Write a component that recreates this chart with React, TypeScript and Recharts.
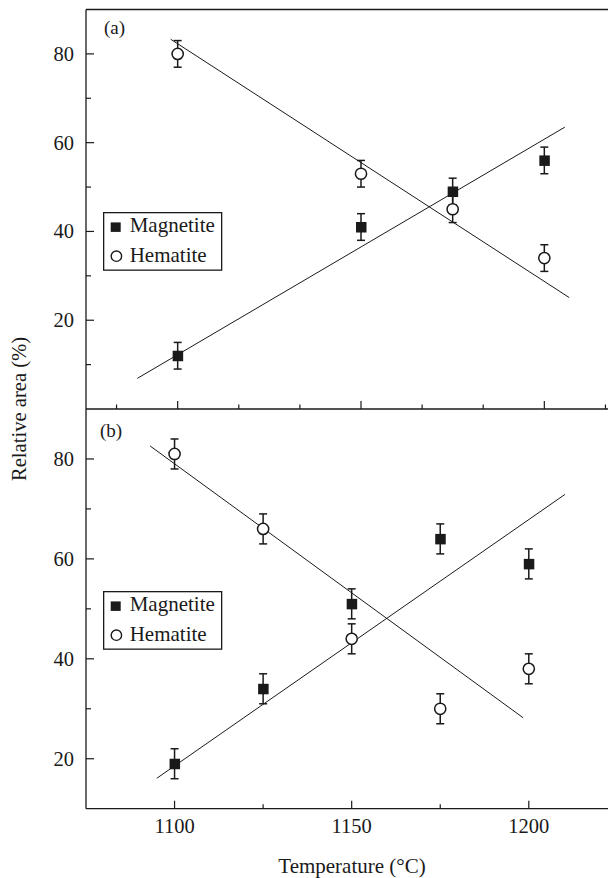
import React from 'react';
import { ScatterChart, Scatter, XAxis, YAxis, ErrorBar, ReferenceLine, Legend } from 'recharts';

const FONT = 'Liberation Serif, Tinos, DejaVu Serif, serif';
const INK = '#1a1a1a';

// panel (a)
const tempsA = [1100, 1150, 1175, 1200];
const magnetiteA = [12, 41, 49, 56];
const hematiteA = [80, 53, 45, 34];
const errA = [3, 3, 3, 3];
const fitMagA = [{ t: 1089.0, v: 6.9 }, { t: 1205.6, v: 63.5 }];
const fitHemA = [{ t: 1098.1, v: 83.3 }, { t: 1206.8, v: 25.1 }];
const xTicksA = [1083.33, 1100, 1116.67, 1133.33, 1150, 1166.67, 1183.33, 1200, 1216.67];
const yTicksA = [10, 20, 30, 40, 50, 60, 70, 80];

// panel (b)
const tempsB = [1100, 1125, 1150, 1175, 1200];
const magnetiteB = [19, 34, 51, 64, 59];
const hematiteB = [81, 66, 44, 30, 38];
const errB = [3, 3, 3, 3, 3];
const fitMagB = [{ t: 1095.0, v: 16.1 }, { t: 1210.2, v: 72.9 }];
const fitHemB = [{ t: 1093.1, v: 82.6 }, { t: 1198.4, v: 28.2 }];
const xTicksB = [1100, 1125, 1150, 1175, 1200];
const yTicksB = [20, 30, 40, 50, 60, 70, 80];

const legendItems = ['Magnetite', 'Hematite'];

const toPoints = (temps: number[], vals: number[], errs: number[]) =>
  temps.map((t, i) => ({ t, v: vals[i], e: errs[i] }));

const Square = (p: any) => <rect x={p.cx - 5} y={p.cy - 5} width={10.5} height={10.5} fill={INK} />;
const Ring = (p: any) => (
  <circle cx={p.cx} cy={p.cy} r={5.6} fill="#fff" stroke={INK} strokeWidth={1.5} />
);
const NoMarker = () => <g />;

const YTick = ({ x, y, payload }: any) => {
  const major = payload.value % 20 === 0;
  return (
    <g>
      <line x1={x} y1={y} x2={x + (major ? 8 : 5)} y2={y} stroke={INK} strokeWidth={1.2} />
      {major && (
        <text x={x - 12} y={y} dy="0.34em" textAnchor="end" fontSize={20.5} fontFamily={FONT} fill={INK}>
          {payload.value}
        </text>
      )}
    </g>
  );
};

const makeXTick = (withLabel: boolean) => ({ x, y, payload }: any) => {
  const q = payload.value / 50;
  const major = Math.abs(q - Math.round(q)) < 0.001;
  return (
    <g>
      <line x1={x} y1={y} x2={x} y2={y - (major ? 8 : 4.5)} stroke={INK} strokeWidth={1.2} />
      {withLabel && major && (
        <text x={x} y={y + 24} textAnchor="middle" fontSize={20.5} fontFamily={FONT} fill={INK}>
          {payload.value}
        </text>
      )}
    </g>
  );
};

const LegendBox = () => (
  <svg width={120} height={60}>
    <rect x={0.65} y={0.65} width={118} height={57.5} fill="#fff" stroke={INK} strokeWidth={1.3} />
    <rect x={7.7} y={10.4} width={10} height={9.5} fill={INK} />
    <text x={26.7} y={20} fontSize={21} fontFamily={FONT} fill={INK}>{legendItems[0]}</text>
    <circle cx={13.4} cy={44.2} r={5.2} fill="#fff" stroke={INK} strokeWidth={1.4} />
    <text x={26.7} y={49.5} fontSize={21} fontFamily={FONT} fill={INK}>{legendItems[1]}</text>
  </svg>
);

const axisLine = { stroke: INK, strokeWidth: 1.3 };
const fitLine = { stroke: INK, strokeWidth: 1 };
const errProps = { dataKey: 'e', direction: 'y' as const, width: 4, stroke: INK, strokeWidth: 1.5 };

export default function App() {
  return (
    <div
      style={{
        position: 'absolute', left: 0, top: 0, width: 608, height: 878,
        overflow: 'hidden', background: '#fff', fontFamily: FONT,
      }}
    >
      <div style={{ position: 'absolute', left: 0, top: 400 }}>
        <ScatterChart width={620} height={478} margin={{ top: 9, right: 11.5, left: 0, bottom: 0 }}>
          <XAxis
            dataKey="t" type="number" domain={[1075, 1222.5]} ticks={xTicksB} interval={0}
            height={69.3} tickSize={0} tickMargin={0} axisLine={axisLine} tickLine={false}
            tick={makeXTick(true)}
          />
          <YAxis
            dataKey="v" type="number" domain={[10, 90]} ticks={yTicksB} interval={0}
            width={86} tickSize={0} tickMargin={0} axisLine={axisLine} tickLine={false} tick={<YTick />}
          />
          <Legend
            layout="vertical" align="center" verticalAlign="middle" content={<LegendBox />}
            wrapperStyle={{ left: 103.3, top: 191, width: 120, height: 60 }}
          />
          <Scatter data={fitMagB} line={fitLine} shape={NoMarker} isAnimationActive={false} />
          <Scatter data={fitHemB} line={fitLine} shape={NoMarker} isAnimationActive={false} />
          <Scatter data={toPoints(tempsB, magnetiteB, errB)} shape={Square} isAnimationActive={false}>
            <ErrorBar {...errProps} />
          </Scatter>
          <Scatter data={toPoints(tempsB, hematiteB, errB)} shape={Ring} isAnimationActive={false}>
            <ErrorBar {...errProps} />
          </Scatter>
        </ScatterChart>
      </div>
      <div style={{ position: 'absolute', left: 0, top: 0 }}>
        <ScatterChart width={620} height={420} margin={{ top: 9.5, right: 11.5, left: 0, bottom: 0 }}>
          <XAxis
            dataKey="t" type="number" domain={[1075, 1217.5]} ticks={xTicksA} interval={0}
            height={11} tickSize={0} tickMargin={0} axisLine={axisLine} tickLine={false}
            tick={makeXTick(false)}
          />
          <YAxis
            dataKey="v" type="number" domain={[0, 90]} ticks={yTicksA} interval={0}
            width={86} tickSize={0} tickMargin={0} axisLine={axisLine} tickLine={false} tick={<YTick />}
          />
          <ReferenceLine y={90} stroke={INK} strokeWidth={1.3} />
          <Legend
            layout="vertical" align="center" verticalAlign="middle" content={<LegendBox />}
            wrapperStyle={{ left: 103.3, top: 212.3, width: 120, height: 60 }}
          />
          <Scatter data={fitMagA} line={fitLine} shape={NoMarker} isAnimationActive={false} />
          <Scatter data={fitHemA} line={fitLine} shape={NoMarker} isAnimationActive={false} />
          <Scatter data={toPoints(tempsA, magnetiteA, errA)} shape={Square} isAnimationActive={false}>
            <ErrorBar {...errProps} />
          </Scatter>
          <Scatter data={toPoints(tempsA, hematiteA, errA)} shape={Ring} isAnimationActive={false}>
            <ErrorBar {...errProps} />
          </Scatter>
        </ScatterChart>
      </div>
      <svg
        width={608} height={878}
        style={{ position: 'absolute', left: 0, top: 0, pointerEvents: 'none' }}
      >
        <text x={104} y={33.5} fontSize={19} fontFamily={FONT} fill={INK}>(a)</text>
        <text x={100} y={437} fontSize={19} fontFamily={FONT} fill={INK}>(b)</text>
        <text
          x={0} y={0} transform="translate(26 409) rotate(-90)" textAnchor="middle"
          fontSize={20.6} fontFamily={FONT} fill={INK}
        >
          Relative area (%)
        </text>
        <text x={352} y={873} textAnchor="middle" fontSize={21} fontFamily={FONT} fill={INK}>
          Temperature (°C)
        </text>
      </svg>
    </div>
  );
}
